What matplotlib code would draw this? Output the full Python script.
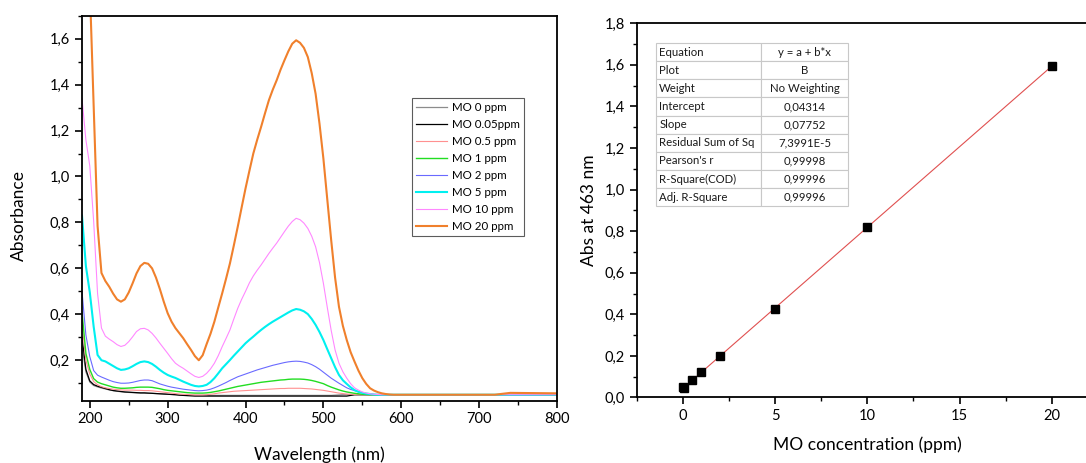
import matplotlib
matplotlib.use('Agg')
import matplotlib.pyplot as plt
import numpy as np
from matplotlib.ticker import MultipleLocator, FuncFormatter

plt.rcParams['font.family'] = ['Lato', 'DejaVu Sans']

# ── Data: UV-Vis spectra (5 nm steps up to 600 nm) ────
WAVELENGTH = list(range(190, 605, 5)) + [650, 700, 720, 740, 800]
TAIL = [0.05, 0.05, 0.05, 0.05, 0.05]

ABS_0 = [0.26, 0.15, 0.105, 0.09, 0.084, 0.079, 0.075, 0.071, 0.068, 0.065,
         0.063, 0.061, 0.06, 0.059, 0.058, 0.057, 0.057, 0.056, 0.056, 0.055,
         0.054, 0.053, 0.052, 0.051, 0.05, 0.049, 0.048, 0.047, 0.047, 0.047] \
    + [0.047] * 35 + [0.048, 0.049, 0.05, 0.05, 0.05] + [0.05] * 13 + TAIL
ABS_005 = [0.3, 0.16, 0.11, 0.094, 0.087, 0.082, 0.077, 0.072, 0.068, 0.066,
           0.064, 0.062, 0.061, 0.06, 0.059, 0.058, 0.058, 0.057, 0.056, 0.055,
           0.054, 0.053, 0.052, 0.051, 0.05, 0.048, 0.047, 0.046, 0.045, 0.044] \
    + [0.044] * 39 + [0.047] + [0.05] * 13 + TAIL
ABS_05 = [0.36, 0.2, 0.14, 0.107, 0.093, 0.085, 0.08, 0.077, 0.074, 0.072,
          0.071, 0.07, 0.07, 0.07, 0.069, 0.069, 0.068, 0.068, 0.067, 0.065,
          0.063, 0.061, 0.059, 0.057, 0.055, 0.053, 0.052, 0.051, 0.05, 0.049,
          0.049, 0.049, 0.05, 0.052, 0.054, 0.057, 0.059, 0.061, 0.063, 0.065,
          0.066, 0.067, 0.068, 0.069, 0.07, 0.071, 0.072, 0.073, 0.074, 0.075,
          0.076, 0.077, 0.077, 0.078, 0.078, 0.078, 0.078, 0.077, 0.076, 0.075,
          0.073, 0.071, 0.069, 0.066, 0.063, 0.06, 0.057, 0.055, 0.053, 0.052,
          0.051, 0.05, 0.05, 0.05, 0.05, 0.05, 0.05, 0.05, 0.05, 0.05,
          0.05, 0.05, 0.05] + TAIL
ABS_1 = [0.41, 0.23, 0.16, 0.12, 0.105, 0.098, 0.093, 0.088, 0.083, 0.08,
         0.078, 0.078, 0.079, 0.08, 0.082, 0.083, 0.083, 0.083, 0.082, 0.079,
         0.076, 0.072, 0.069, 0.067, 0.065, 0.063, 0.061, 0.059, 0.058, 0.057,
         0.057, 0.057, 0.058, 0.06, 0.063, 0.066, 0.07, 0.074, 0.078, 0.082,
         0.086, 0.089, 0.092, 0.095, 0.098, 0.101, 0.104, 0.106, 0.108, 0.11,
         0.112, 0.114, 0.115, 0.117, 0.118, 0.118, 0.118, 0.117, 0.115, 0.112,
         0.108, 0.103, 0.098, 0.09, 0.083, 0.077, 0.071, 0.066, 0.062, 0.059,
         0.056, 0.054, 0.052, 0.051, 0.05, 0.05, 0.05, 0.05, 0.05, 0.05,
         0.05, 0.05, 0.05] + TAIL
ABS_2 = [0.5, 0.31, 0.216, 0.155, 0.135, 0.127, 0.12, 0.113, 0.107, 0.103,
         0.1, 0.1, 0.101, 0.104, 0.108, 0.112, 0.114, 0.114, 0.111, 0.104,
         0.097, 0.092, 0.087, 0.083, 0.08, 0.077, 0.074, 0.072, 0.07, 0.068,
         0.067, 0.068, 0.07, 0.074, 0.08, 0.087, 0.095, 0.103, 0.112, 0.12,
         0.128, 0.134, 0.14, 0.146, 0.152, 0.158, 0.163, 0.168, 0.173, 0.178,
         0.182, 0.186, 0.19, 0.193, 0.195, 0.196, 0.195, 0.192, 0.188, 0.181,
         0.172, 0.161, 0.148, 0.135, 0.122, 0.111, 0.1, 0.09, 0.08, 0.073,
         0.068, 0.062, 0.058, 0.055, 0.053, 0.051, 0.05, 0.05, 0.05, 0.05,
         0.05, 0.05, 0.05] + TAIL
ABS_5 = [0.83, 0.61, 0.496, 0.346, 0.223, 0.2, 0.195, 0.185, 0.175, 0.165,
         0.158, 0.16, 0.165, 0.174, 0.184, 0.192, 0.195, 0.192, 0.184, 0.172,
         0.158, 0.146, 0.136, 0.129, 0.123, 0.115, 0.107, 0.1, 0.093, 0.088,
         0.086, 0.088, 0.093, 0.105, 0.122, 0.143, 0.165, 0.183, 0.201, 0.22,
         0.238, 0.256, 0.274, 0.289, 0.303, 0.318, 0.332, 0.345, 0.357, 0.368,
         0.378, 0.388, 0.398, 0.408, 0.417, 0.423, 0.42, 0.413, 0.401, 0.38,
         0.354, 0.323, 0.288, 0.248, 0.209, 0.17, 0.136, 0.113, 0.097, 0.082,
         0.07, 0.063, 0.058, 0.055, 0.053, 0.051, 0.05, 0.05, 0.05, 0.05,
         0.05, 0.05, 0.05] + TAIL
ABS_10 = [1.34, 1.16, 1.046, 0.804, 0.49, 0.34, 0.305, 0.292, 0.281, 0.268,
          0.26, 0.265, 0.281, 0.302, 0.325, 0.337, 0.339, 0.332, 0.317, 0.297,
          0.274, 0.252, 0.23, 0.207, 0.187, 0.175, 0.165, 0.153, 0.141, 0.13,
          0.125, 0.13, 0.143, 0.162, 0.187, 0.22, 0.259, 0.295, 0.332, 0.38,
          0.426, 0.465, 0.5, 0.537, 0.567, 0.592, 0.615, 0.64, 0.665, 0.688,
          0.71, 0.735, 0.76, 0.784, 0.804, 0.818, 0.812, 0.797, 0.774, 0.74,
          0.694, 0.625, 0.535, 0.43, 0.33, 0.245, 0.187, 0.15, 0.122, 0.098,
          0.08, 0.07, 0.062, 0.057, 0.054, 0.052, 0.051, 0.05, 0.05, 0.05,
          0.05, 0.05, 0.05] + TAIL
ABS_20 = [3.0, 2.4, 1.83, 1.306, 0.785, 0.58, 0.545, 0.52, 0.49, 0.465,
          0.455, 0.465, 0.495, 0.535, 0.578, 0.61, 0.624, 0.62, 0.6, 0.56,
          0.51, 0.455, 0.405, 0.368, 0.34, 0.318, 0.296, 0.27, 0.245, 0.218,
          0.2, 0.222, 0.27, 0.315, 0.368, 0.43, 0.491, 0.555, 0.622, 0.7,
          0.781, 0.865, 0.948, 1.025, 1.1, 1.16, 1.216, 1.275, 1.332, 1.378,
          1.419, 1.465, 1.506, 1.545, 1.578, 1.593, 1.582, 1.56, 1.52, 1.45,
          1.36, 1.23, 1.078, 0.9, 0.723, 0.56, 0.433, 0.35, 0.288, 0.235,
          0.194, 0.155, 0.122, 0.097, 0.078, 0.068, 0.061, 0.056, 0.053, 0.051,
          0.05, 0.05, 0.05] + [0.05, 0.05, 0.05, 0.058, 0.056]

SPECTRA = [
    ('MO 0 ppm',    ABS_0,   '#8c8c8c', 0.9),
    ('MO 0.05ppm',  ABS_005, '#000000', 0.9),
    ('MO 0.5 ppm',  ABS_05,  '#ff9090', 0.8),
    ('MO 1 ppm',    ABS_1,   '#22dd22', 1.0),
    ('MO 2 ppm',    ABS_2,   '#6a6aff', 0.8),
    ('MO 5 ppm',    ABS_5,   '#00f0f0', 1.5),
    ('MO 10 ppm',   ABS_10,  '#ff88ff', 0.8),
    ('MO 20 ppm',   ABS_20,  '#f0802c', 1.5),
]
for _, vals, _, _ in SPECTRA:
    assert len(vals) == len(WAVELENGTH), len(vals)

# ── Data: calibration ────────────────────────────────────────────────────────
CONC = [0, 0.05, 0.5, 1, 2, 5, 10, 20]
ABS_463 = [0.051, 0.047, 0.084, 0.123, 0.199, 0.427, 0.821, 1.596]
INTERCEPT = 0.04314
SLOPE = 0.07752

TABLE_ROWS = [
    ['Equation', 'y = a + b*x'],
    ['Plot', 'B'],
    ['Weight', 'No Weighting'],
    ['Intercept', '0,04314'],
    ['Slope', '0,07752'],
    ['Residual Sum of Sq', '7,3991E-5'],
    ["Pearson's r", '0,99998'],
    ['R-Square(COD)', '0,99996'],
    ['Adj. R-Square', '0,99996'],
]

comma = FuncFormatter(lambda v, p: f"{v:.1f}".replace('.', ','))


def style_ax(ax):
    for spine in ax.spines.values():
        spine.set_linewidth(1.3)
        spine.set_color('black')
    ax.tick_params(which='both', direction='out', top=False, right=False,
                   labelsize=10.5, colors='black')
    ax.tick_params(which='major', length=5, width=1.2)
    ax.tick_params(which='minor', length=3, width=1.0)


fig = plt.figure(figsize=(10.86, 4.63), dpi=100)
fig.patch.set_facecolor('white')

# ── Left: spectra ────────────────────────────────────────────────────────────
ax1 = fig.add_axes([0.0755, 0.1346, 0.4374, 0.8315])
for label, vals, col, lw in SPECTRA:
    ax1.plot(WAVELENGTH, vals, color=col, lw=lw, label=label)
ax1.set_xlim(190, 800)
ax1.set_ylim(0.024, 1.7)
ax1.xaxis.set_major_locator(MultipleLocator(100))
ax1.xaxis.set_minor_locator(MultipleLocator(50))
ax1.yaxis.set_major_locator(MultipleLocator(0.2))
ax1.yaxis.set_minor_locator(MultipleLocator(0.1))
ax1.yaxis.set_major_formatter(comma)
style_ax(ax1)
ax1.set_xlabel('Wavelength (nm)', fontsize=12.5)
ax1.set_ylabel('Absorbance', fontsize=12.5)
ax1.xaxis.set_label_coords(0.5, -0.12)
ax1.yaxis.set_label_coords(-0.115, 0.48)
leg = ax1.legend(loc='upper left', bbox_to_anchor=(0.695, 0.7855),
                 borderaxespad=0, fontsize=8.3, frameon=True, fancybox=False,
                 handlelength=2.7, handletextpad=0.4, labelspacing=0.52,
                 borderpad=0.35)
leg.get_frame().set_edgecolor('#333333')
leg.get_frame().set_linewidth(0.8)

# ── Right: calibration line ──────────────────────────────────────────────────
ax2 = fig.add_axes([0.5863, 0.1415, 0.4246, 0.8082])
fit_x = np.array([min(CONC), max(CONC)])
ax2.plot(fit_x, INTERCEPT + SLOPE * fit_x, color='#e05050', lw=0.8, zorder=2)
ax2.plot(CONC, ABS_463, 's', color='black', ms=5.5, zorder=3)
ax2.set_xlim(-2.5, 22.5)
ax2.set_ylim(0, 1.8)
ax2.xaxis.set_major_locator(MultipleLocator(5))
ax2.xaxis.set_minor_locator(MultipleLocator(2.5))
ax2.yaxis.set_major_locator(MultipleLocator(0.2))
ax2.yaxis.set_minor_locator(MultipleLocator(0.1))
ax2.yaxis.set_major_formatter(comma)
style_ax(ax2)
ax2.set_xlabel('MO concentration (ppm)', fontsize=12.5)
ax2.set_ylabel('Abs at 463 nm', fontsize=12.5)
ax2.xaxis.set_label_coords(0.5, -0.105)
ax2.yaxis.set_label_coords(-0.087, 0.5)

tbl = ax2.table(cellText=TABLE_ROWS, colWidths=[0.546 * 0.417, 0.454 * 0.417],
                bbox=[0.0419, 0.511, 0.417, 0.4364], zorder=4)
tbl.auto_set_font_size(False)
for (r, c), cell in tbl.get_celld().items():
    cell.set_edgecolor('#c8c8c8')
    cell.set_linewidth(0.8)
    cell.set_facecolor('white')
    txt = cell.get_text()
    txt.set_fontsize(8.2)
    txt.set_color('#1a1a1a')
    if c == 0:
        txt.set_ha('left')
        cell.PAD = 0.03
    else:
        txt.set_ha('center')

fig.savefig('out.png', dpi=100, facecolor='white')
